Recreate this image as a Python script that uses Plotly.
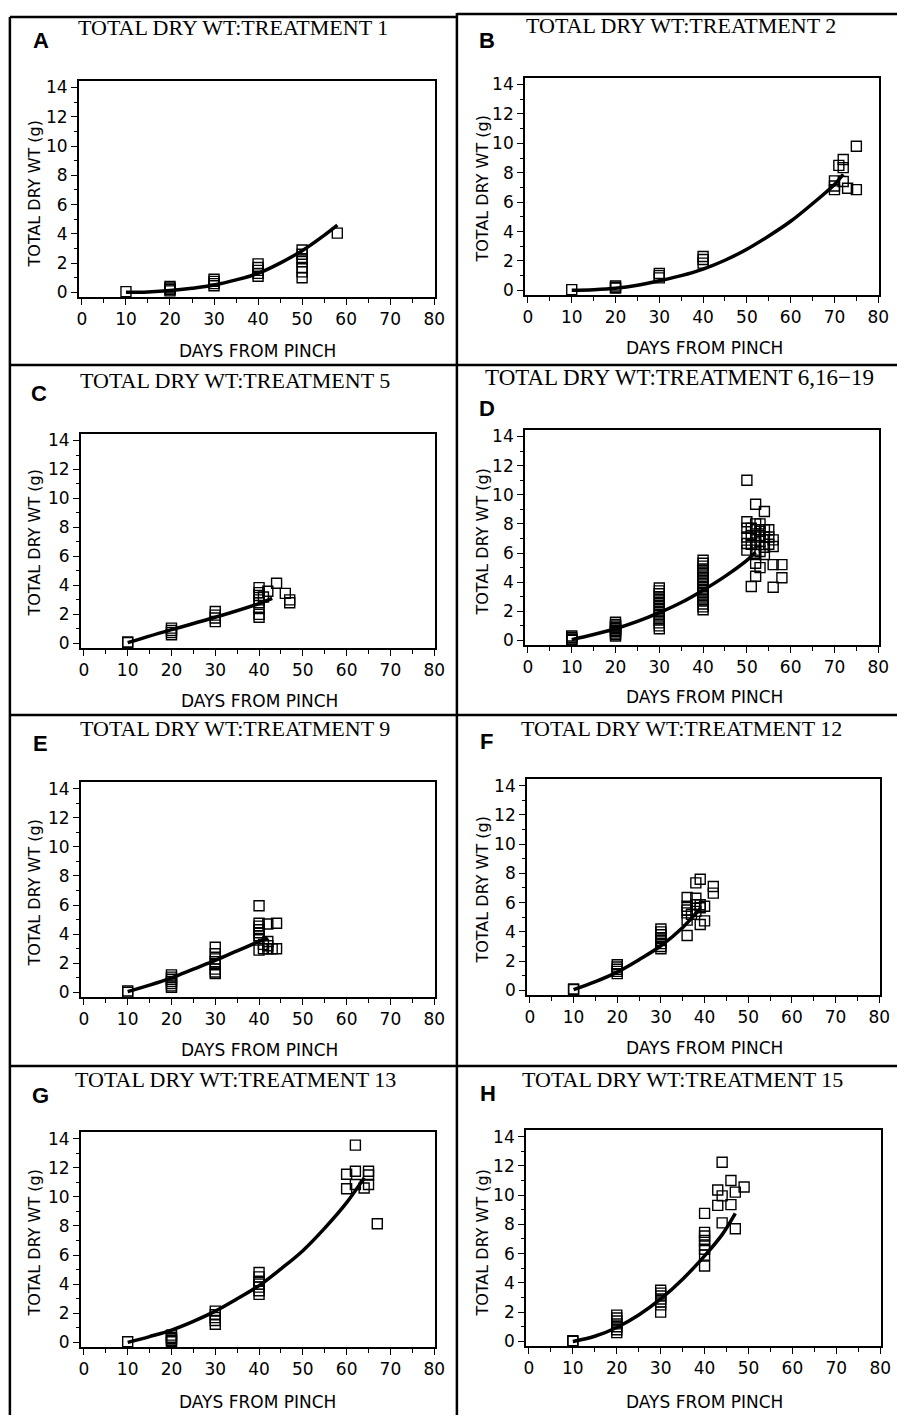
import plotly.graph_objects as go

W, H = 907, 1420

# ---------------- data ----------------
a_days = [10, 20, 20, 20, 20, 30, 30, 30, 30, 40, 40, 40, 40, 40, 50, 50, 50, 50, 50, 50, 50, 58]
a_wt = [0.05, 0.4, 0.3, 0.2, 0.1, 0.9, 0.75, 0.6, 0.45, 1.95, 1.7, 1.5, 1.3, 1.1, 2.9, 2.6, 2.3, 2.1, 1.7, 1.4, 1.0, 4.05]
a_fit_days = [10, 15, 20, 25, 30, 35, 40, 45, 50, 55, 58]
a_fit_wt = [0.0, 0.03, 0.12, 0.28, 0.5, 0.85, 1.3, 2.0, 2.85, 3.9, 4.6]

b_days = [10, 20, 20, 20, 30, 30, 30, 40, 40, 40, 70, 70, 70, 71, 72, 72, 72, 73, 75, 75]
b_wt = [0.05, 0.3, 0.2, 0.15, 1.15, 1.0, 0.85, 2.3, 2.1, 1.85, 7.45, 7.1, 6.85, 8.5, 8.9, 8.35, 7.4, 6.95, 9.8, 6.85]
b_fit_days = [10, 15, 20, 25, 30, 35, 40, 45, 50, 55, 60, 65, 70, 72]
b_fit_wt = [0.0, 0.05, 0.15, 0.35, 0.65, 1.0, 1.45, 2.05, 2.8, 3.7, 4.7, 5.9, 7.2, 7.9]

c_days = [10, 10, 20, 20, 20, 20, 30, 30, 30, 30, 40, 40, 40, 40, 40, 40, 40, 40, 41, 42, 44, 46, 47, 47]
c_wt = [0.1, 0.05, 1.05, 0.9, 0.75, 0.6, 2.2, 1.95, 1.75, 1.5, 3.85, 3.5, 3.3, 3.0, 2.8, 2.4, 2.0, 1.8, 3.2, 3.6, 4.15, 3.45, 3.0, 2.8]
c_fit_days = [10, 20, 30, 40, 43]
c_fit_wt = [0.05, 0.95, 1.8, 2.75, 3.1]

d_days = [10, 10, 10, 10, 10,
          20, 20, 20, 20, 20, 20, 20, 20, 20, 20,
          30, 30, 30, 30, 30, 30, 30, 30, 30, 30, 30, 30, 30, 30, 30,
          40, 40, 40, 40, 40, 40, 40, 40, 40, 40, 40, 40, 40, 40, 40, 40, 40, 40,
          50, 52, 54, 50, 50, 50, 50, 50, 51, 51, 51, 51,
          52, 52, 52, 52, 52, 52, 52, 52, 53, 53, 53, 53, 53, 53,
          54, 54, 54, 54, 55, 55, 55, 56, 56, 56, 56, 58, 58]
d_wt = [0.3, 0.2, 0.1, 0.05, 0.0,
        1.25, 1.1, 1.0, 0.9, 0.8, 0.7, 0.6, 0.5, 0.4, 0.3,
        3.6, 3.4, 3.2, 3.0, 2.8, 2.6, 2.4, 2.2, 2.0, 1.8, 1.6, 1.4, 1.2, 1.0, 0.8,
        5.5, 5.3, 5.1, 4.9, 4.7, 4.5, 4.3, 4.1, 3.9, 3.7, 3.5, 3.3, 3.1, 2.9, 2.7, 2.5, 2.3, 2.1,
        11.0, 9.35, 8.85, 8.15, 7.7, 7.1, 6.65, 6.2, 7.7, 7.2, 6.6, 3.7,
        8.0, 7.6, 7.1, 6.7, 6.2, 5.3, 4.4, 5.9, 8.0, 7.5, 6.8, 6.1, 5.0, 7.2,
        7.6, 7.1, 6.4, 5.9, 7.6, 7.1, 6.6, 6.9, 6.45, 5.2, 3.65, 5.2, 4.3]
d_fit_days = [10, 15, 20, 25, 30, 35, 40, 45, 50, 52]
d_fit_wt = [0.05, 0.4, 0.8, 1.3, 1.9, 2.6, 3.45, 4.4, 5.5, 6.05]

e_days = [10, 10, 20, 20, 20, 20, 20, 20, 20, 30, 30, 30, 30, 30, 30, 30, 30,
          40, 40, 40, 40, 40, 40, 40, 40, 41, 41, 42, 42, 42, 42, 43, 44, 44]
e_wt = [0.1, 0.0, 1.2, 1.05, 0.9, 0.75, 0.6, 0.45, 0.35, 3.1, 2.65, 2.3, 2.1, 1.9, 1.6, 1.4, 1.3,
        5.95, 4.75, 4.55, 4.3, 4.1, 3.9, 3.7, 2.9, 3.3, 3.0, 4.7, 3.5, 3.2, 3.0, 3.0, 4.75, 3.0]
e_fit_days = [10, 15, 20, 25, 30, 35, 40, 42]
e_fit_wt = [0.05, 0.5, 1.0, 1.6, 2.2, 2.85, 3.5, 3.75]

f_days = [10, 10, 20, 20, 20, 20, 20, 30, 30, 30, 30, 30, 30, 30, 30,
          36, 36, 36, 36, 36, 36, 37, 38, 38, 38, 38, 39, 39, 39, 39, 40, 40, 42, 42]
f_wt = [0.1, 0.05, 1.75, 1.6, 1.45, 1.3, 1.15, 4.2, 4.0, 3.8, 3.6, 3.4, 3.2, 3.0, 2.85,
        6.35, 5.75, 5.5, 5.3, 4.8, 3.75, 5.2, 7.35, 6.3, 5.85, 5.4, 7.6, 5.85, 5.65, 4.5, 5.75, 4.75, 7.1, 6.65]
f_fit_days = [10, 15, 20, 25, 30, 35, 39]
f_fit_wt = [0.05, 0.6, 1.25, 2.1, 3.05, 4.3, 5.6]

g_days = [10, 20, 20, 20, 20, 20, 30, 30, 30, 30, 30, 40, 40, 40, 40, 40, 40, 40,
          60, 60, 62, 62, 62, 64, 65, 65, 65, 67]
g_wt = [0.05, 0.5, 0.35, 0.25, 0.15, 0.05, 2.15, 1.9, 1.7, 1.5, 1.25, 4.8, 4.5, 4.2, 4.0, 3.8, 3.55, 3.3,
        11.55, 10.55, 13.55, 11.75, 10.85, 10.6, 11.75, 11.5, 10.85, 8.15]
g_fit_days = [10, 15, 20, 25, 30, 35, 40, 45, 50, 55, 60, 64]
g_fit_wt = [0.0, 0.4, 0.85, 1.45, 2.15, 3.0, 3.9, 5.05, 6.3, 7.85, 9.6, 11.3]

h_days = [10, 10, 20, 20, 20, 20, 20, 20, 20, 30, 30, 30, 30, 30, 30, 30,
          40, 40, 40, 40, 40, 40, 40, 40, 43, 43, 44, 44, 44, 46, 46, 47, 47, 49]
h_wt = [0.05, 0.0, 1.8, 1.6, 1.4, 1.2, 1.0, 0.8, 0.6, 3.5, 3.3, 3.1, 2.9, 2.7, 2.5, 2.0,
        8.75, 7.45, 7.2, 6.9, 6.6, 6.3, 5.9, 5.15, 10.35, 9.3, 12.25, 9.95, 8.1, 11.0, 9.35, 10.2, 7.7, 10.55]
h_fit_days = [10, 15, 20, 25, 30, 35, 40, 44, 47]
h_fit_wt = [0.0, 0.35, 0.95, 1.8, 2.9, 4.25, 5.85, 7.3, 8.75]

panel_letters = ["A", "B", "C", "D", "E", "F", "G", "H"]
panel_titles = ["TOTAL DRY WT:TREATMENT 1", "TOTAL DRY WT:TREATMENT 2",
                "TOTAL DRY WT:TREATMENT 5", "TOTAL DRY WT:TREATMENT 6,16\u221219",
                "TOTAL DRY WT:TREATMENT 9", "TOTAL DRY WT:TREATMENT 12",
                "TOTAL DRY WT:TREATMENT 13", "TOTAL DRY WT:TREATMENT 15"]
x_title = "DAYS FROM PINCH"
y_title = "TOTAL DRY WT (g)"
x_ticks = [0, 10, 20, 30, 40, 50, 60, 70, 80]
y_ticks = [0, 2, 4, 6, 8, 10, 12, 14]

series = [(a_days, a_wt, a_fit_days, a_fit_wt), (b_days, b_wt, b_fit_days, b_fit_wt),
          (c_days, c_wt, c_fit_days, c_fit_wt), (d_days, d_wt, d_fit_days, d_fit_wt),
          (e_days, e_wt, e_fit_days, e_fit_wt), (f_days, f_wt, f_fit_days, f_fit_wt),
          (g_days, g_wt, g_fit_days, g_fit_wt), (h_days, h_wt, h_fit_days, h_fit_wt)]

# ---------------- layout geometry (pixels) ----------------
# (px of day 0, px of day 80, px of 0 g, px of 14 g)
geom = [(81, 438, 291, 85), (533, 888, 289, 82),
        (83, 438, 644, 440), (533, 888, 641, 436),
        (83, 438, 995, 790), (535, 889, 993, 787),
        (83, 438, 1347, 1142), (534, 890, 1346, 1140)]
title_pos = [(234, 25), (688, 23), (236, 380), (687, 377), (236, 730), (689, 730), (237, 1083), (690, 1083)]
title_size = [22, 22, 22, 23, 22, 22, 22, 22]
letter_pos = [(40, 38), (492, 38), (38, 393), (492, 408), (39, 745), (491, 743), (39, 1099), (493, 1097)]
xt_pos = [(259, 350), (712, 347), (261, 702), (712, 698), (261, 1053), (712, 1051), (259, 1407), (712, 1407)]
yt_pos = [(33, 192), (487, 187), (33, 543), (487, 542), (33, 895), (487, 892), (33, 1247), (487, 1247)]

XR = [-0.7, 80.25]
YR = [-0.33, 14.45]


def px(x):
    return x / W


def py(y):
    return 1 - y / H


fig = go.Figure()
layout_axes = {}
annotations = []
tick_font = dict(family="DejaVu Sans", size=17, color="black")

for i, (days, wt, fdays, fwt) in enumerate(series):
    n = i + 1
    sx = "" if n == 1 else str(n)
    x0, x80, y0, y14 = geom[i]
    k = (x80 - x0) / 80.0
    m = (y0 - y14) / 14.0
    dx = [px(x0 + XR[0] * k), px(x0 + XR[1] * k)]
    dy = [py(y0 - YR[0] * m), py(y0 - YR[1] * m)]

    fig.add_trace(go.Scatter(x=fdays, y=fwt, mode="lines", line=dict(color="black", width=3.5, shape="spline"),
                             xaxis="x" + sx, yaxis="y" + sx, showlegend=False, hoverinfo="skip"))
    fig.add_trace(go.Scatter(x=days, y=wt, mode="markers",
                             marker=dict(symbol="square-open", size=10, color="black", line=dict(width=1.4, color="black")),
                             xaxis="x" + sx, yaxis="y" + sx, showlegend=False))

    common = dict(showline=True, linecolor="black", linewidth=1.5, mirror=True, showgrid=False, zeroline=False,
                  ticks="outside", ticklen=6, tickwidth=1.3, tickcolor="black", tickfont=tick_font, fixedrange=True)
    layout_axes["xaxis" + sx] = dict(common, domain=dx, range=XR, tickvals=x_ticks, anchor="y" + sx,
                                     minor=dict(tickvals=[5, 15, 25, 35, 45, 55, 65, 75], ticks="outside", ticklen=4,
                                                tickwidth=1.2, tickcolor="black", showgrid=False))
    layout_axes["yaxis" + sx] = dict(common, domain=dy, range=YR, tickvals=y_ticks, anchor="x" + sx,
                                     minor=dict(tickvals=[1, 3, 5, 7, 9, 11, 13], ticks="outside", ticklen=3,
                                                tickwidth=1.2, tickcolor="black", showgrid=False))

    tx, ty = title_pos[i]
    annotations.append(dict(text=panel_titles[i], x=px(tx), y=py(ty), xref="paper", yref="paper",
                            xanchor="center", yanchor="middle", showarrow=False,
                            font=dict(family="Liberation Serif", size=title_size[i], color="black")))
    lx, ly = letter_pos[i]
    annotations.append(dict(text="<b>" + panel_letters[i] + "</b>", x=px(lx), y=py(ly), xref="paper", yref="paper",
                            xanchor="center", yanchor="middle", showarrow=False,
                            font=dict(family="Liberation Sans", size=22, color="black")))
    ax_, ay_ = xt_pos[i]
    annotations.append(dict(text=x_title, x=px(ax_), y=py(ay_), xref="paper", yref="paper",
                            xanchor="center", yanchor="middle", showarrow=False,
                            font=dict(family="DejaVu Sans", size=17, color="black")))
    bx, by = yt_pos[i]
    annotations.append(dict(text=y_title, x=px(bx), y=py(by), xref="paper", yref="paper", textangle=-90,
                            xanchor="center", yanchor="middle", showarrow=False,
                            font=dict(family="DejaVu Sans", size=16, color="black")))

# panel frame lines
border = [
    (8, 14, 461, 14), (461, 11, 907, 11),
    (8, 14, 8, 1420), (461, 10, 461, 1420),
    (8, 364, 907, 364), (8, 716, 907, 716), (8, 1069, 907, 1069),
]
shapes = [dict(type="line", xref="paper", yref="paper", x0=px(a), y0=py(b), x1=px(c), y1=py(d),
               line=dict(color="black", width=2.5)) for a, b, c, d in border]

fig.update_layout(width=W, height=H, margin=dict(l=0, r=0, t=0, b=0), paper_bgcolor="white",
                  plot_bgcolor="white", annotations=annotations, shapes=shapes, showlegend=False,
                  **layout_axes)

fig.write_html("out.html", config={"displayModeBar": False, "responsive": False},
               post_script="document.body.style.margin='0px';document.body.style.overflow='hidden';"
                           "document.documentElement.style.overflow='hidden';")
